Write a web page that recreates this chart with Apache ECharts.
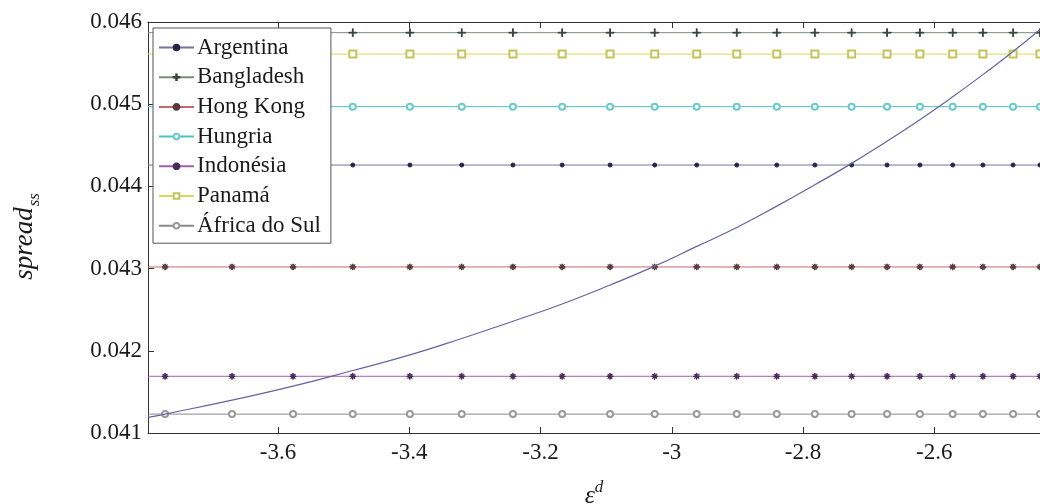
<!DOCTYPE html>
<html>
<head>
<meta charset="utf-8">
<script src="https://cdn.jsdelivr.net/npm/echarts@6/dist/echarts.min.js"></script>
<style>
  html, body { margin: 0; padding: 0; background: #fff; }
  #chart { width: 1040px; height: 504px; }
</style>
</head>
<body>
<div id="chart"></div>
<script>
// Elasticity grid (horizontal axis) at which every series is evaluated
const epsGrid = [-3.798, -3.772, -3.670, -3.577, -3.486, -3.399, -3.320, -3.242, -3.167, -3.094, -3.026,
                 -2.962, -2.901, -2.840, -2.782, -2.726, -2.672, -2.622, -2.572, -2.526, -2.480, -2.439];

// Steady-state spread implied by the model along the grid
const modelSpread = [0.04119, 0.04123, 0.04140, 0.04157, 0.04176, 0.04195, 0.04215, 0.04236, 0.04257,
                     0.04280, 0.04303, 0.04327, 0.04350, 0.04376, 0.04402, 0.04428, 0.04455, 0.04481,
                     0.04509, 0.04536, 0.04564, 0.04591];

// Observed spread per country (constant across the grid)
const countries = ['Argentina', 'Bangladesh', 'Hong Kong', 'Hungria', 'Indonésia', 'Panamá', 'África do Sul'];
const countrySpread = [0.04426, 0.04587, 0.04302, 0.04497, 0.04169, 0.04561, 0.04123];

// Tick labels
const xTicks = [-3.6, -3.4, -3.2, -3, -2.8, -2.6];
const yTicks = [0.041, 0.042, 0.043, 0.044, 0.045, 0.046];

const SERIF = '"Liberation Serif", "Times New Roman", serif';

const STAR = 'path://M-0.1,-1H0.1V1H-0.1Z M-1,-0.1H1V0.1H-1Z M-0.78,-0.64L-0.64,-0.78L0.78,0.64L0.64,0.78Z M0.64,-0.78L0.78,-0.64L-0.64,0.78L-0.78,0.64Z';
const PLUS = 'path://M-0.1,-1H0.1V1H-0.1Z M-1,-0.1H1V0.1H-1Z';

const styles = {
  'Argentina':     { line: '#74749c', mark: '#25254a', symbol: 'circle', size: 4 },
  'Bangladesh':    { line: '#7c8a7c', mark: '#3a463a', symbol: PLUS, size: 8 },
  'Hong Kong':     { line: '#c46a6e', mark: '#5a3a3e', symbol: STAR, size: 6 },
  'Hungria':       { line: '#4cc4c4', mark: '#6ccaca', symbol: 'emptyCircle', size: 6 },
  'Indonésia':     { line: '#a060ae', mark: '#4a2a58', symbol: STAR, size: 6 },
  'Panamá':        { line: '#d8d860', mark: '#c4c45c', symbol: 'emptyRect', size: 7 },
  'África do Sul': { line: '#8a8a8a', mark: '#9a9a9a', symbol: 'emptyCircle', size: 6 }
};

const countrySeries = countries.map((name, k) => {
  const st = styles[name];
  return {
    name: name,
    type: 'line',
    data: epsGrid.map((x, i) => {
      const item = { value: [x, countrySpread[k]] };
      if (i === 0) item.symbol = 'none';
      return item;
    }),
    symbol: st.symbol,
    symbolSize: st.size,
    showAllSymbol: true,
    lineStyle: { color: st.line, width: 1 },
    itemStyle: { color: st.mark, borderColor: st.mark, borderWidth: 1 },
    emphasis: { disabled: true },
    z: 2
  };
});

const curveSeries = {
  name: 'spread modelo',
  type: 'line',
  data: epsGrid.map((x, i) => [x, modelSpread[i]]),
  smooth: true,
  showSymbol: false,
  lineStyle: { color: '#6464a4', width: 1.2 },
  itemStyle: { color: '#6464a4' },
  emphasis: { disabled: true },
  z: 3
};

const xMin = epsGrid[0], xMax = epsGrid[epsGrid.length - 1];

const option = {
  animation: false,
  backgroundColor: '#ffffff',
  grid: { left: 148, top: 22, right: 0, bottom: 71, containLabel: false, outerBoundsMode: 'none' },
  legend: {
    data: countries,
    orient: 'vertical',
    left: 153,
    top: 28,
    padding: [8, 10, 6, 5],
    itemWidth: 35,
    itemHeight: 7,
    itemGap: 6.7,
    backgroundColor: '#ffffff',
    borderColor: '#555555',
    borderWidth: 1,
    textStyle: { fontFamily: SERIF, fontSize: 23, color: '#1a1a1a', lineHeight: 23, padding: [0, 0, 0, -2] },
    selectedMode: false
  },
  xAxis: [{
    type: 'value',
    min: xMin,
    max: xMax,
    position: 'bottom',
    name: '{e|ε}{d|d}',
    nameLocation: 'middle',
    nameGap: 46,
    nameTextStyle: {
      rich: {
        e: { fontFamily: SERIF, fontStyle: 'italic', fontSize: 26, color: '#1a1a1a', verticalAlign: 'bottom', lineHeight: 30 },
        d: { fontFamily: SERIF, fontStyle: 'italic', fontSize: 17, color: '#1a1a1a', verticalAlign: 'top', lineHeight: 30 }
      }
    },
    axisLine: { show: true, onZero: false, lineStyle: { color: '#333', width: 1 } },
    axisTick: { show: true, inside: true, length: 6, customValues: xTicks, lineStyle: { color: '#333' } },
    axisLabel: {
      customValues: xTicks,
      margin: 8,
      fontFamily: SERIF, fontSize: 23, color: '#1a1a1a',
      formatter: v => String(Math.round(v * 10) / 10)
    },
    splitLine: { show: false }
  }, {
    type: 'value',
    min: xMin,
    max: xMax,
    position: 'top',
    axisLine: { show: true, onZero: false, lineStyle: { color: '#333', width: 1 } },
    axisTick: { show: true, inside: true, length: 6, customValues: xTicks, lineStyle: { color: '#333' } },
    axisLabel: { show: false },
    splitLine: { show: false }
  }],
  yAxis: [{
    type: 'value',
    min: 0.041,
    max: 0.046,
    position: 'left',
    name: '{v|spread}{s|ss}',
    nameLocation: 'middle',
    nameRotate: 90,
    nameGap: 111,
    nameTextStyle: {
      padding: [0, 18, 0, 0],
      rich: {
        v: { fontFamily: SERIF, fontStyle: 'italic', fontSize: 27, color: '#1a1a1a', verticalAlign: 'top', lineHeight: 26 },
        s: { fontFamily: SERIF, fontStyle: 'italic', fontSize: 17, color: '#1a1a1a', verticalAlign: 'top', lineHeight: 17, padding: [15, 0, 0, 1] }
      }
    },
    axisLine: { show: true, onZero: false, lineStyle: { color: '#333', width: 1 } },
    axisTick: { show: true, inside: true, length: 6, customValues: yTicks, lineStyle: { color: '#333' } },
    axisLabel: {
      customValues: yTicks,
      margin: 6,
      fontFamily: SERIF, fontSize: 23, color: '#1a1a1a',
      formatter: v => v.toFixed(3)
    },
    splitLine: { show: false }
  }],
  series: [curveSeries].concat(countrySeries)
};

const chart = echarts.init(document.getElementById('chart'), null, { renderer: 'canvas' });
chart.setOption(option);
</script>
</body>
</html>
